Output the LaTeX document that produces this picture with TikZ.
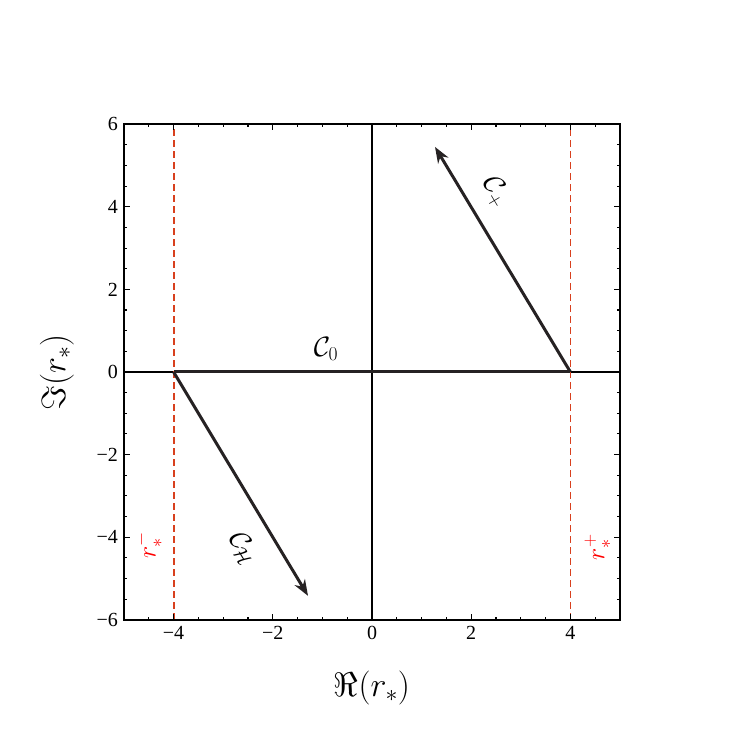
\RequirePackage{fix-cm}
\documentclass[tikz,border=0pt]{standalone}
\usepackage{amsmath,amssymb}
\usepackage{fontspec}
\newfontfamily\tickfont{Liberation Serif}
\usetikzlibrary{arrows.meta}
\definecolor{dk}{HTML}{262223}
\definecolor{rd}{HTML}{D8401E}
\tikzset{
  frame/.style={line width=1.6pt, black},
  axisline/.style={line width=1.1pt, black},
  contour/.style={line width=3pt, dk},
  arr/.style={contour, -{Stealth[length=16pt,width=12pt]}},
  asym/.style={line width=1.8pt, rd, dash pattern=on 7pt off 4pt},
  ticklab/.style={font=\tickfont\fontsize{20}{22}\selectfont, inner sep=0pt},
  clab/.style={font=\fontsize{28}{30}\selectfont, inner sep=0pt},
  rlab/.style={font=\fontsize{26}{28}\selectfont, text=red, inner sep=0pt, rotate=90},
  axlab/.style={font=\fontsize{34}{38}\selectfont, inner sep=0pt}
}
\begin{document}
\begin{tikzpicture}
\useasboundingbox (0,0) rectangle (747pt,747pt);
\begin{scope}[shift={(372pt,375pt)}, x=49.6pt, y=41.3pt]
  \coordinate (A) at (-4,0);
  \coordinate (B) at (4,0);
  \coordinate (P) at (1.27,5.45);
  \coordinate (H) at (-1.29,-5.42);
  % axes lines
  \draw[axisline] (-5,0) -- (5,0);
  \draw[axisline] (0,-6) -- (0,6);
  % asymptotes
  \draw[asym] (-3.995,-6) -- (-3.995,6);
  \draw[asym] (4,-6) -- (4,6);
  % contours
  \draw[contour] (A) -- (B);
  \draw[arr] (B) -- (P);
  \draw[arr] (A) -- (H);
  % ticks
  \foreach \t in {-4.5,-4,...,4.5} {
    \draw[line width=1.1pt] (\t,-6) -- ++(0,3pt);
    \draw[line width=1.1pt] (\t,6) -- ++(0,-3pt);
  }
  \foreach \t in {-4,-2,...,4} {
    \draw[line width=1.1pt] (\t,-6) -- ++(0,6pt);
    \draw[line width=1.1pt] (\t,6) -- ++(0,-6pt);
  }
  \foreach \t in {-5.5,-5,...,5.5} {
    \draw[line width=1.1pt] (-5,\t) -- ++(3pt,0);
    \draw[line width=1.1pt] (5,\t) -- ++(-3pt,0);
  }
  \foreach \t in {-4,-2,...,4} {
    \draw[line width=1.1pt] (-5,\t) -- ++(6pt,0);
    \draw[line width=1.1pt] (5,\t) -- ++(-6pt,0);
  }
  % frame
  \draw[frame] (-5,-6) rectangle (5,6);
  % tick labels
  \foreach \t/\l [count=\i] in {-4/−4,-2/−2,0/0,2/2,4/4} {
    \node[ticklab, anchor=north] (xl\i) at ([yshift=-6pt]\t,-6) {\l};
  }
  \foreach \t/\l [count=\i] in {-6/−6,-4/−4,-2/−2,0/0,2/2,4/4,6/6} {
    \node[ticklab, anchor=east] (yl\i) at ([xshift=-6pt]-5,\t) {\l};
  }
  % labels
  \node[clab] (c0) at (-0.93,0.55) {$\mathcal{C}_0$};
  \node[clab, rotate=-59] (cp) at (2.5,4.36) {$\mathcal{C}_+$};
  \node[clab, rotate=-59] (ch) at (-2.6,-4.26) {$\mathcal{C}_{\mathcal{H}}$};
  \node[rlab] (rm) at (-4.5,-4.2) {$r_*^-$};
  \node[rlab] (rp) at (4.55,-4.24) {$r_*^+$};
\end{scope}
\node[axlab] (xlab) at (372pt,59pt) {$\Re(r_*)$};
\node[axlab, rotate=90] (ylab) at (57pt,375pt) {$\Im(r_*)$};
\end{tikzpicture}
\end{document}
